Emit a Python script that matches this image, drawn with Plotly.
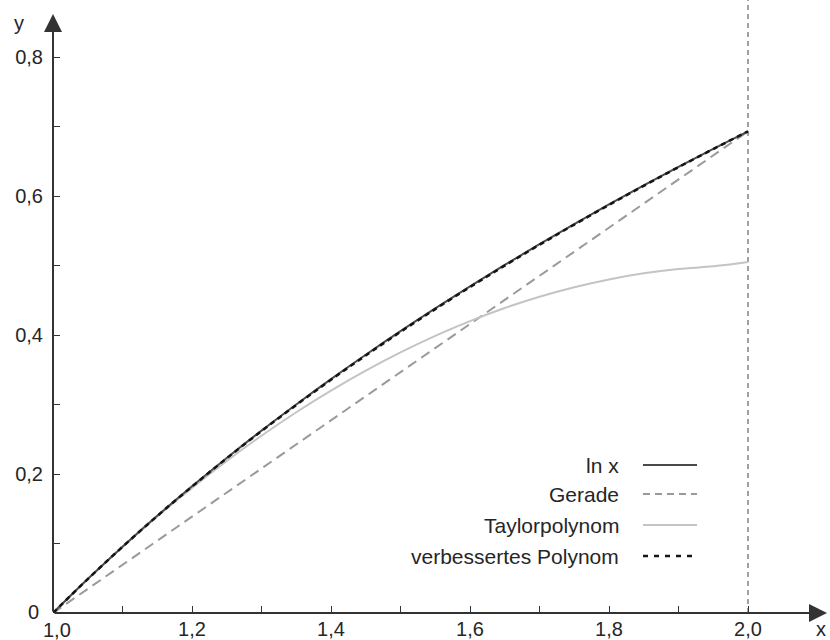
import plotly.graph_objects as go

# ---- data ----
x_vals = [1.00, 1.05, 1.10, 1.15, 1.20, 1.25, 1.30, 1.35, 1.40, 1.45, 1.50,
          1.55, 1.60, 1.65, 1.70, 1.75, 1.80, 1.85, 1.90, 1.95, 2.00]
ln_x = [0.0, 0.0488, 0.0953, 0.1398, 0.1823, 0.2231, 0.2624, 0.3001, 0.3365,
        0.3716, 0.4055, 0.4383, 0.4700, 0.5008, 0.5306, 0.5596, 0.5878,
        0.6152, 0.6419, 0.6678, 0.6931]
gerade_x = [1.0, 2.0]
gerade_y = [0.0, 0.6931]
taylor = [0.0, 0.0488, 0.0950, 0.1388, 0.1800, 0.2188, 0.2550, 0.2888, 0.3200,
          0.3488, 0.3750, 0.3988, 0.4200, 0.4388, 0.4550, 0.4688, 0.4800,
          0.4888, 0.4950, 0.4988, 0.5050]
verbessert = [0.0, 0.0488, 0.0952, 0.1396, 0.1819, 0.2226, 0.2617, 0.2993, 0.3356,
              0.3706, 0.4045, 0.4373, 0.4690, 0.4999, 0.5298, 0.5589, 0.5872,
              0.6147, 0.6415, 0.6675, 0.6931]

x_ticks = [1.0, 1.1, 1.2, 1.3, 1.4, 1.5, 1.6, 1.7, 1.8, 1.9, 2.0]
x_ticktext = ["", "", "1,2", "", "1,4", "", "1,6", "", "1,8", "", "2,0"]
y_ticks = [0.0, 0.1, 0.2, 0.3, 0.4, 0.5, 0.6, 0.7, 0.8]
y_ticktext = ["", "", "0,2", "", "0,4", "", "0,6", "", "0,8"]
origin_x_label = "1,0"
origin_y_label = "0"

legend_names = ["ln x", "Gerade", "Taylorpolynom", "verbessertes Polynom"]

# ---- styles ----
C_LN = "#4a4a4a"
C_GER = "#9a9a9a"
C_TAY = "#c4c4c4"
C_VER = "#151515"
AXC = "#333333"
TXT = "#262626"
FONT = "Liberation Sans, Arial, sans-serif"

W, H = 830, 640
ML, MR, MT, MB = 53, 3, 0, 27
PW, PH = W - ML - MR, H - MT - MB
SCALE = 695.0  # px per unit (both axes)
x_range = [1.0, 1.0 + PW / SCALE]
y_range = [0.0, PH / SCALE]

def px(xp):
    return (xp - ML) / PW

def py(yp):
    return (H - MB - yp) / PH

fig = go.Figure()
fig.add_trace(go.Scatter(x=gerade_x, y=gerade_y, mode="lines",
                         line=dict(color=C_GER, width=2, dash="10px,6px"),
                         showlegend=False))
fig.add_trace(go.Scatter(x=x_vals, y=taylor, mode="lines", line_shape="spline",
                         line=dict(color=C_TAY, width=2), showlegend=False))
fig.add_trace(go.Scatter(x=x_vals, y=ln_x, mode="lines", line_shape="spline",
                         line=dict(color=C_LN, width=2), showlegend=False))
fig.add_trace(go.Scatter(x=x_vals, y=verbessert, mode="lines", line_shape="spline",
                         line=dict(color=C_VER, width=2.5, dash="5px,4px"),
                         showlegend=False))

shapes = []
# vertical dashed line at x = 2
shapes.append(dict(type="line", xref="x", yref="paper", x0=2.0, x1=2.0, y0=0, y1=1,
                   line=dict(color="#444444", width=1, dash="5px,4px"), layer="below"))

annotations = []
# axes with arrows
annotations.append(dict(x=x_range[1], y=0, ax=1.0, ay=0, xref="x", yref="y",
                        axref="x", ayref="y", showarrow=True, arrowhead=2,
                        arrowsize=1.8, arrowwidth=2, arrowcolor=AXC, text=""))
annotations.append(dict(x=1.0, y=0.862, ax=1.0, ay=0, xref="x", yref="y",
                        axref="x", ayref="y", showarrow=True, arrowhead=2,
                        arrowsize=1.8, arrowwidth=2, arrowcolor=AXC, text=""))

def label(text, xp, yp, xanchor="center"):
    return dict(x=px(xp), y=py(yp), xref="paper", yref="paper", text=text,
                showarrow=False, xanchor=xanchor, yanchor="middle",
                font=dict(size=20, color=TXT, family=FONT))

# axis titles
annotations.append(label("y", 19, 23))
annotations.append(label("x", 821, 629))
# origin labels
annotations.append(label(origin_y_label, 41, 612, "right"))
annotations.append(label(origin_x_label, 57, 630))

# legend
rows = [465, 494, 525, 556]
styles = [dict(color=C_LN, width=2), dict(color=C_GER, width=2, dash="7px,5px"),
          dict(color=C_TAY, width=2), dict(color=C_VER, width=2.5, dash="5px,6px")]
for name, ry, st in zip(legend_names, rows, styles):
    annotations.append(dict(x=px(621), y=py(ry), xref="paper", yref="paper", text=name,
                            showarrow=False, xanchor="right", yanchor="middle",
                            font=dict(size=21, color=TXT, family=FONT)))
    shapes.append(dict(type="line", xref="paper", yref="paper", x0=px(643), x1=px(697),
                       y0=py(ry), y1=py(ry), line=st))

fig.update_layout(
    width=W, height=H, margin=dict(l=ML, r=MR, t=MT, b=MB),
    paper_bgcolor="white", plot_bgcolor="white",
    shapes=shapes, annotations=annotations, showlegend=False,
    font=dict(family=FONT, size=20, color=TXT),
)
fig.update_xaxes(range=x_range, showgrid=False, zeroline=False, showline=False,
                 tickvals=x_ticks, ticktext=x_ticktext, ticks="inside", ticklen=7,
                 tickwidth=1.2, tickcolor=AXC, ticklabelstandoff=2,
                 tickfont=dict(size=20, color=TXT, family=FONT))
fig.update_yaxes(range=y_range, showgrid=False, zeroline=False, showline=False,
                 tickvals=y_ticks, ticktext=y_ticktext, ticks="inside", ticklen=7,
                 tickwidth=1.2, tickcolor=AXC, ticklabelstandoff=9,
                 tickfont=dict(size=20, color=TXT, family=FONT))

fig.write_html("out.html")
